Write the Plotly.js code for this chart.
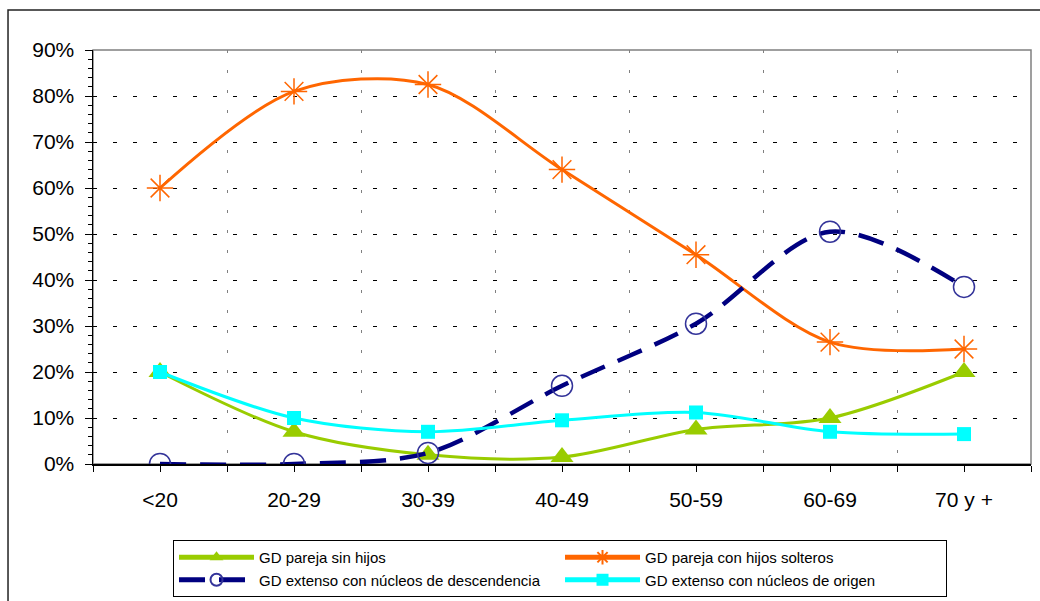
<!DOCTYPE html>
<html>
<head>
<meta charset="utf-8">
<script src="https://cdn.plot.ly/plotly-3.0.1.min.js"></script>
<style>
  html, body { margin: 0; padding: 0; background: #ffffff; }
  #chart { width: 1040px; height: 601px; }
</style>
</head>
<body>
<div id="chart"></div>
<script>
// Age groups of the household head
const categories = ['<20', '20-29', '30-39', '40-49', '50-59', '60-69', '70 y +'];

// Share of households by type (fractions)
const parejaSinHijos      = [0.20, 0.07, 0.02, 0.015, 0.075, 0.10, 0.20];
const parejaConHijos      = [0.60, 0.81, 0.825, 0.64, 0.455, 0.265, 0.25];
const extensoDescendencia = [0.00, 0.00, 0.024, 0.17, 0.305, 0.505, 0.385];
const extensoOrigen       = [0.20, 0.10, 0.07, 0.095, 0.112, 0.07, 0.065];

const seriesNames = [
  'GD pareja sin hijos',
  'GD pareja con hijos solteros',
  'GD extenso con núcleos de descendencia',
  'GD extenso con núcleos de origen'
];

const xIdx = categories.map((_, i) => i);
const boundaries = [-0.5].concat(xIdx.map(i => i + 0.5));

const font = 'Liberation Sans, Arial, sans-serif';

const traces = [
  {
    x: xIdx, y: parejaSinHijos, name: seriesNames[0],
    mode: 'lines+markers',
    line: { color: '#99CC00', width: 3, shape: 'spline', smoothing: 0.9 },
    marker: { symbol: 'triangle-up', size: 20, color: '#99CC00' }
  },
  {
    x: xIdx, y: parejaConHijos, name: seriesNames[1],
    mode: 'lines+markers',
    line: { color: '#FF6600', width: 3, shape: 'spline', smoothing: 0.9 },
    marker: { symbol: 'asterisk-open', size: 22, color: '#FF6600',
              line: { color: '#FF6600', width: 1.5 } }
  },
  {
    x: xIdx, y: extensoDescendencia, name: seriesNames[2],
    mode: 'lines+markers',
    line: { color: '#000080', width: 4.5, dash: '26px,14px', shape: 'spline', smoothing: 0.9 },
    marker: { symbol: 'circle-open', size: 21, color: '#333399',
              line: { color: '#333399', width: 1.5 } }
  },
  {
    x: xIdx, y: extensoOrigen, name: seriesNames[3],
    mode: 'lines+markers',
    line: { color: '#00FFFF', width: 3, shape: 'spline', smoothing: 0.9 },
    marker: { symbol: 'square', size: 14, color: '#00FFFF' }
  }
];

const layout = {
  width: 1040, height: 601,
  margin: { l: 93, r: 9, t: 50, b: 137, autoexpand: false },
  paper_bgcolor: '#ffffff',
  plot_bgcolor: '#ffffff',
  font: { family: font, color: '#000000', size: 21 },
  showlegend: true,
  legend: {
    orientation: 'h',
    x: 0.0853, xanchor: 'left',
    y: -0.1836, yanchor: 'top',
    entrywidth: 296, entrywidthmode: 'pixels',
    itemwidth: 75,
    itemsizing: 'constant',
    bordercolor: '#000000', borderwidth: 1,
    bgcolor: '#ffffff',
    font: { family: font, size: 15, color: '#000000' },
    traceorder: 'normal'
  },
  xaxis: {
    range: [-0.5, 6.5],
    tickmode: 'array', tickvals: xIdx, ticktext: categories,
    ticks: 'outside', ticklen: 6, tickwidth: 1, tickcolor: '#000000',
    ticklabelstandoff: 10,
    showgrid: false, zeroline: false,
    showline: true, linecolor: '#000000', linewidth: 1.5,
    tickfont: { family: font, size: 21, color: '#000000' },
    minor: {
      tickmode: 'array', tickvals: boundaries,
      ticks: 'outside', ticklen: 6, tickwidth: 1, tickcolor: '#000000',
      showgrid: true, gridcolor: '#808080', gridwidth: 1, griddash: '3px,17px'
    },
    fixedrange: true
  },
  yaxis: {
    range: [0, 0.9],
    tick0: 0, dtick: 0.1, tickformat: '.0%',
    ticks: 'outside', ticklen: 7, tickwidth: 1, tickcolor: '#000000',
    ticklabelstandoff: 6,
    showgrid: true, gridcolor: '#000000', gridwidth: 1, griddash: '4px,16px',
    zeroline: false,
    showline: true, linecolor: '#000000', linewidth: 1.5,
    tickfont: { family: font, size: 21, color: '#000000' },
    minor: {
      tick0: 0, dtick: 0.02,
      ticks: 'outside', ticklen: 4, tickwidth: 1, tickcolor: '#000000',
      showgrid: false
    },
    fixedrange: true
  },
  shapes: [
    // plot-area frame (top and right edges show in grey)
    { type: 'rect', xref: 'paper', yref: 'paper', x0: 0, y0: 0, x1: 1, y1: 1,
      line: { color: '#808080', width: 1.5 }, layer: 'below' },
    // chart-area border
    { type: 'rect', xref: 'paper', yref: 'paper',
      x0: -0.0906, y0: -0.40, x1: 1.05, y1: 1.0966,
      line: { color: '#222222', width: 1.5 }, layer: 'below' }
  ]
};

Plotly.newPlot('chart', traces, layout, { displayModeBar: false, staticPlot: true });
</script>
</body>
</html>
